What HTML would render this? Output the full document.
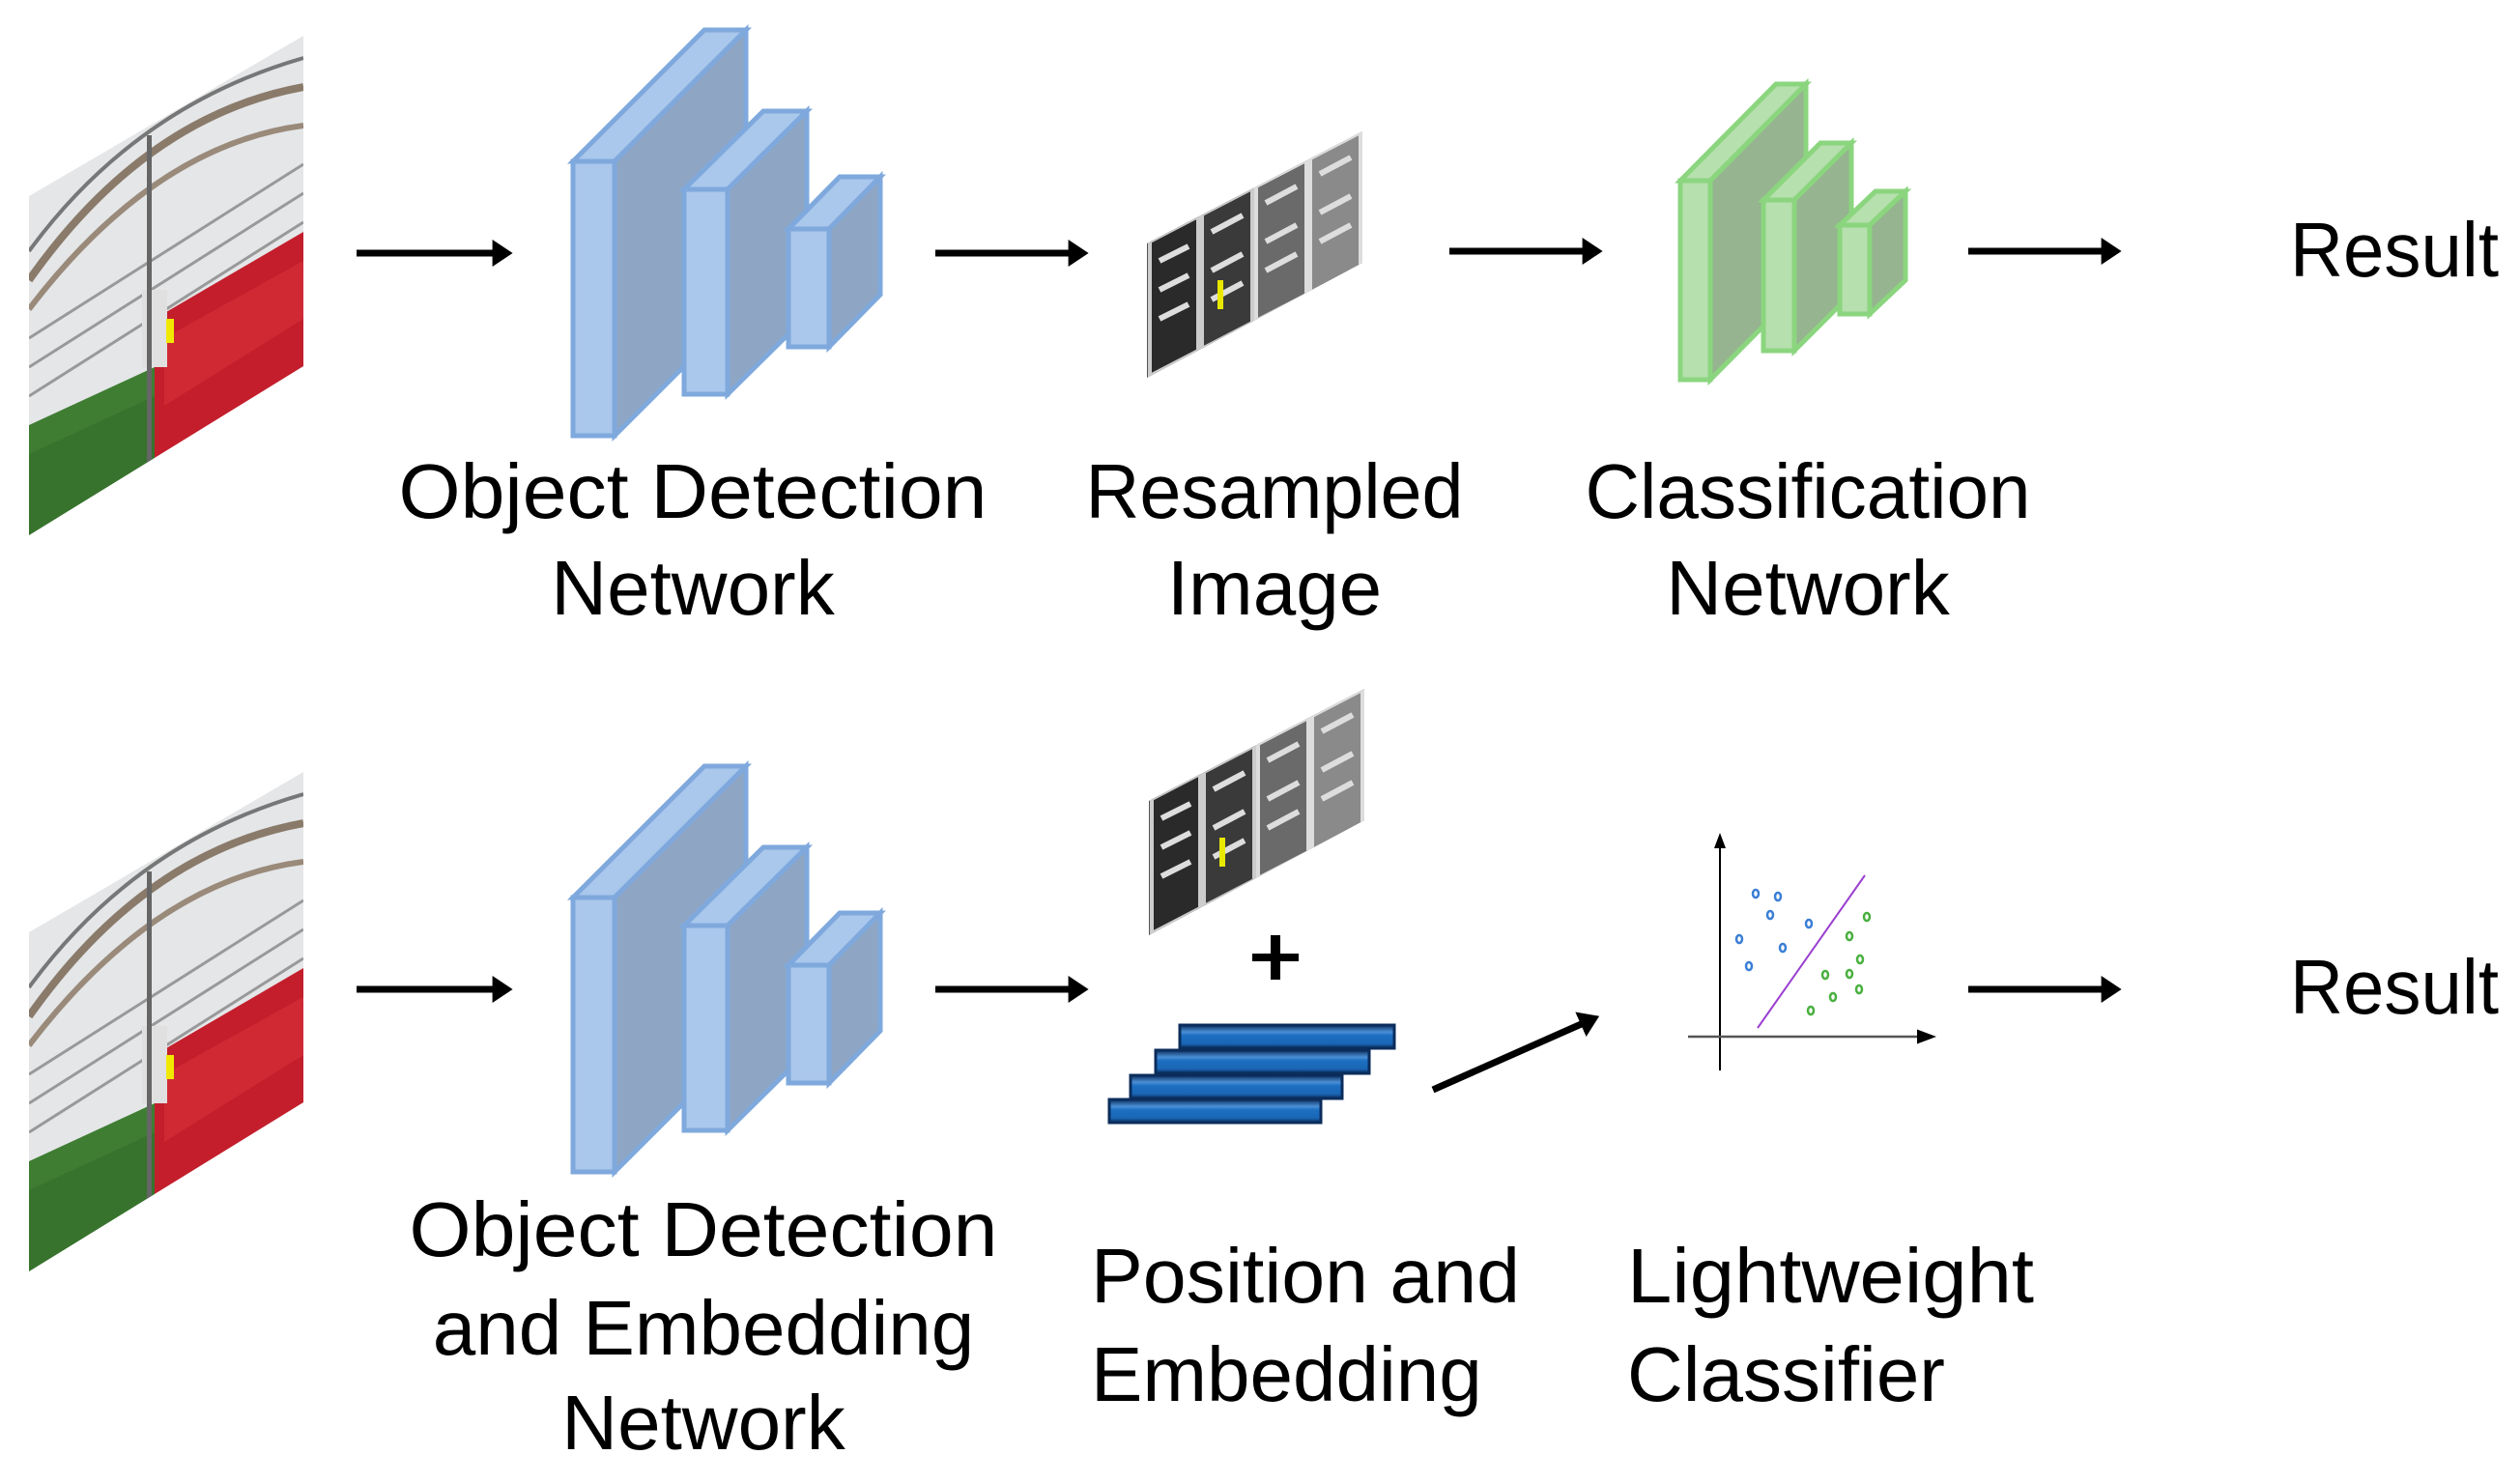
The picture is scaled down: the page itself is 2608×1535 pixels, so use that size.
<!DOCTYPE html>
<html><head><meta charset="utf-8"><style>
html,body{margin:0;padding:0;background:#fff;}
svg{display:block;}
text{font-family:"Liberation Sans",sans-serif;font-size:80px;fill:#000;}
</style></head><body>
<svg width="2608" height="1535" viewBox="0 0 2608 1535" xmlns="http://www.w3.org/2000/svg">
<defs>
<marker id="ah" markerWidth="4" markerHeight="4" refX="2.2" refY="2" orient="auto" markerUnits="strokeWidth"><path d="M0,0 L3,2 L0,4 Z" fill="#000"/></marker>
<marker id="sah" markerWidth="8" markerHeight="8" refX="6" refY="4" orient="auto" markerUnits="strokeWidth"><path d="M0,1 L8,4 L0,7 Z" fill="#000"/></marker>
<clipPath id="ph"><polygon points="30,203 314,37 314,379 30,554"/></clipPath>
<clipPath id="rs"><polygon points="1187,252 1410,136 1410,272 1187,391"/></clipPath>
<linearGradient id="bar" x1="0" y1="0" x2="0" y2="1"><stop offset="0" stop-color="#0a2c5a"/><stop offset="0.3" stop-color="#4b8fd6"/><stop offset="0.45" stop-color="#1c6fc2"/><stop offset="0.8" stop-color="#1a66b5"/><stop offset="1" stop-color="#0a2c5a"/></linearGradient>
<g id="photo">
 <g clip-path="url(#ph)">
  <rect x="30" y="37" width="284" height="517" fill="#e4e6e8"/>
  <path d="M30,290 Q150,120 314,90" stroke="#8a7a6a" stroke-width="8" fill="none"/>
  <path d="M30,320 Q160,150 314,130" stroke="#9a8a7a" stroke-width="6" fill="none"/>
  <path d="M30,260 Q140,110 314,60" stroke="#777" stroke-width="4" fill="none"/>
  <path d="M30,350 L314,170 M30,380 L314,200 M30,410 L314,230" stroke="#999" stroke-width="3" fill="none"/>
  <polygon points="30,440 160,380 160,554 30,554" fill="#3f7d33"/>
  <polygon points="160,330 314,240 314,554 160,554" fill="#c41e2c"/>
  <polygon points="170,350 314,270 314,330 170,420" fill="#d8303a" opacity="0.6"/>
  <polygon points="30,470 160,410 160,554 30,554" fill="#2f6a28" opacity="0.5"/>
  <rect x="147" y="300" width="26" height="80" fill="#e0e0e0"/>
  <rect x="172" y="330" width="8" height="25" fill="#f0e800"/>
  <rect x="152" y="140" width="5" height="380" fill="#666"/>
 </g>
</g>
<g id="rsimg">
 <g clip-path="url(#rs)">
  <rect x="1187" y="136" width="223" height="255" fill="#555"/>
  <polygon points="1190,250 1240,224 1240,363 1190,389" fill="#2a2a2a" stroke="#ccc" stroke-width="4"/>
  <polygon points="1244,222 1296,195 1296,334 1244,361" fill="#3a3a3a" stroke="#ccc" stroke-width="4"/>
  <polygon points="1300,193 1352,166 1352,305 1300,332" fill="#6a6a6a" stroke="#ddd" stroke-width="4"/>
  <polygon points="1356,164 1408,137 1408,276 1356,303" fill="#8a8a8a" stroke="#ddd" stroke-width="4"/>
  <path d="M1200,270 L1230,255 M1200,300 L1230,285 M1200,330 L1230,315 M1254,240 L1286,223 M1254,280 L1286,263 M1254,310 L1286,293 M1310,210 L1342,193 M1310,250 L1342,233 M1310,280 L1342,263 M1366,180 L1398,163 M1366,220 L1398,203 M1366,250 L1398,233" stroke="#ddd" stroke-width="6"/>
  <rect x="1260" y="290" width="6" height="30" fill="#e8e800"/>
 </g>
</g>
<g id="blue" stroke="#7fa9dd" stroke-width="5" stroke-linejoin="miter">
 <polygon points="593,167 729,31 772,31 636,167" fill="#aac7ec"/>
 <polygon points="636,167 772,31 772,315 636,451" fill="#8ea6c4"/>
 <rect x="593" y="167" width="43" height="284" fill="#aac7ec"/>
 <polygon points="708,196 790,115 835,115 753,196" fill="#aac7ec"/>
 <polygon points="753,196 835,115 835,327 753,408" fill="#8ea6c4"/>
 <rect x="708" y="196" width="45" height="212" fill="#aac7ec"/>
 <polygon points="816,237 869,183 911,183 858,237" fill="#aac7ec"/>
 <polygon points="858,237 911,183 911,305 858,359" fill="#8ea6c4"/>
 <rect x="816" y="237" width="42" height="122" fill="#aac7ec"/>
</g>
</defs>

<!-- Row 1 -->
<use href="#photo"/>
<line x1="369" y1="262" x2="525" y2="262" stroke="#000" stroke-width="7" marker-end="url(#ah)"/>
<use href="#blue"/>
<text x="717" y="536" text-anchor="middle" textLength="609" lengthAdjust="spacingAndGlyphs">Object Detection</text>
<text x="717" y="636" text-anchor="middle">Network</text>
<line x1="968" y1="262" x2="1121" y2="262" stroke="#000" stroke-width="7" marker-end="url(#ah)"/>
<use href="#rsimg"/>
<text x="1319" y="536" text-anchor="middle" textLength="391" lengthAdjust="spacingAndGlyphs">Resampled</text>
<text x="1319" y="636" text-anchor="middle">Image</text>
<line x1="1500" y1="260" x2="1653" y2="260" stroke="#000" stroke-width="7" marker-end="url(#ah)"/>
<g stroke="#8bd57f" stroke-width="5">
 <polygon points="1739,187 1838,87 1869,87 1770,187" fill="#b6e0ad"/>
 <polygon points="1770,187 1869,87 1869,293 1770,393" fill="#95b48f"/>
 <rect x="1739" y="187" width="31" height="206" fill="#b6e0ad"/>
 <polygon points="1825,207 1884,148 1916,148 1857,207" fill="#b6e0ad"/>
 <polygon points="1857,207 1916,148 1916,304 1857,363" fill="#95b48f"/>
 <rect x="1825" y="207" width="32" height="156" fill="#b6e0ad"/>
 <polygon points="1904,233 1941,198 1972,198 1935,233" fill="#b6e0ad"/>
 <polygon points="1935,233 1972,198 1972,290 1935,325" fill="#95b48f"/>
 <rect x="1904" y="233" width="31" height="92" fill="#b6e0ad"/>
</g>
<text x="1871" y="536" text-anchor="middle" textLength="461" lengthAdjust="spacingAndGlyphs">Classification</text>
<text x="1871" y="636" text-anchor="middle">Network</text>
<line x1="2037" y1="260" x2="2190" y2="260" stroke="#000" stroke-width="7" marker-end="url(#ah)"/>
<text x="2370" y="286" textLength="216" lengthAdjust="spacingAndGlyphs">Result</text>

<!-- Row 2 -->
<use href="#photo" transform="translate(0,762)"/>
<line x1="369" y1="1024" x2="525" y2="1024" stroke="#000" stroke-width="7" marker-end="url(#ah)"/>
<use href="#blue" transform="translate(0,762)"/>
<text x="728" y="1300" text-anchor="middle" textLength="609" lengthAdjust="spacingAndGlyphs">Object Detection</text>
<text x="728" y="1402" text-anchor="middle">and Embedding</text>
<text x="728" y="1500" text-anchor="middle">Network</text>
<line x1="968" y1="1024" x2="1121" y2="1024" stroke="#000" stroke-width="7" marker-end="url(#ah)"/>
<use href="#rsimg" transform="translate(2,577)"/>
<rect x="1296" y="987" width="48" height="8" fill="#000"/>
<rect x="1315" y="968" width="10" height="46" fill="#000"/>
<g stroke="#0b2d5c" stroke-width="3">
 <rect x="1221" y="1061" width="222" height="24" fill="url(#bar)"/>
 <rect x="1196" y="1087" width="221" height="24" fill="url(#bar)"/>
 <rect x="1170" y="1113" width="219" height="24" fill="url(#bar)"/>
 <rect x="1148" y="1138" width="219" height="24" fill="url(#bar)"/>
</g>
<line x1="1483" y1="1128" x2="1650" y2="1054" stroke="#000" stroke-width="7" marker-end="url(#ah)"/>
<line x1="1780" y1="1108" x2="1780" y2="866" stroke="#000" stroke-width="2" marker-end="url(#sah)"/>
<line x1="1747" y1="1073" x2="1999" y2="1073" stroke="#555" stroke-width="2.5" marker-end="url(#sah)"/>
<line x1="1819" y1="1064" x2="1930" y2="906" stroke="#9a3fd0" stroke-width="2"/>
<g fill="none" stroke="#3b7fd6" stroke-width="2.5">
 <ellipse cx="1817" cy="925" rx="3" ry="4"/><ellipse cx="1840" cy="928" rx="3" ry="4"/>
 <ellipse cx="1832" cy="947" rx="3" ry="4"/><ellipse cx="1872" cy="956" rx="3" ry="4"/>
 <ellipse cx="1800" cy="972" rx="3" ry="4"/><ellipse cx="1845" cy="981" rx="3" ry="4"/>
 <ellipse cx="1810" cy="1000" rx="3" ry="4"/>
</g>
<g fill="none" stroke="#4ab040" stroke-width="2.5">
 <ellipse cx="1932" cy="949" rx="3" ry="4"/><ellipse cx="1914" cy="969" rx="3" ry="4"/>
 <ellipse cx="1925" cy="993" rx="3" ry="4"/><ellipse cx="1889" cy="1009" rx="3" ry="4"/>
 <ellipse cx="1914" cy="1008" rx="3" ry="4"/><ellipse cx="1924" cy="1024" rx="3" ry="4"/>
 <ellipse cx="1897" cy="1032" rx="3" ry="4"/><ellipse cx="1874" cy="1046" rx="3" ry="4"/>
</g>
<line x1="2037" y1="1024" x2="2190" y2="1024" stroke="#000" stroke-width="7" marker-end="url(#ah)"/>
<text x="2370" y="1049" textLength="216" lengthAdjust="spacingAndGlyphs">Result</text>
<text x="1129" y="1348" textLength="444" lengthAdjust="spacingAndGlyphs">Position and</text>
<text x="1129" y="1450">Embedding</text>
<text x="1684" y="1348" textLength="421" lengthAdjust="spacingAndGlyphs">Lightweight</text>
<text x="1684" y="1450">Classifier</text>
</svg>
</body></html>
